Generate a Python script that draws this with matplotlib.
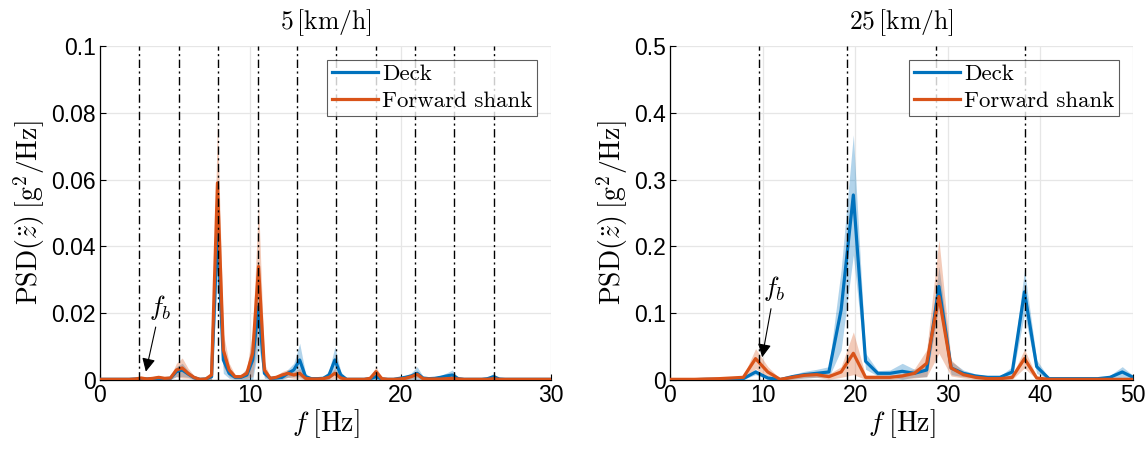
import numpy as np
import matplotlib
matplotlib.use("Agg")
import matplotlib.pyplot as plt

plt.rcParams['font.family'] = ['Liberation Sans', 'DejaVu Sans']
plt.rcParams['mathtext.fontset'] = 'cm'

# ---------------- data ----------------
# 5 km/h panel (frequency step ~0.39 Hz)
df_slow = 0.390625
deck_slow = [0.0002, 0.0002, 0.0002, 0.0002, 0.0002, 0.0002, 0.0003, 0.0004, 0.0003, 0.0004,
             0.0005, 0.0004, 0.0005, 0.0025, 0.003, 0.0018, 0.0007, 0.0002, 0.0003, 0.001,
             0.045, 0.006, 0.002, 0.0008, 0.0008, 0.0015, 0.006, 0.022, 0.002, 0.0005,
             0.0006, 0.0008, 0.002, 0.003, 0.006, 0.001, 0.0004, 0.0004, 0.0005, 0.0015,
             0.006, 0.0015, 0.0002, 0.0002, 0.0002, 0.0002, 0.0004, 0.001, 0.0003, 0.0002,
             0.0002, 0.0005, 0.0008, 0.0012, 0.002, 0.0006, 0.0004, 0.0005, 0.0008, 0.0012,
             0.0015, 0.0004, 0.0002, 0.0002, 0.0002, 0.0002, 0.0004, 0.001, 0.0003, 0.0002,
             0.0002, 0.0002, 0.0002, 0.0002, 0.0002, 0.0002, 0.0002, 0.0002]
deck_slow_sd = [0.0001, 0.0001, 0.0001, 0.0001, 0.0001, 0.0001, 0.0002, 0.0003, 0.0002, 0.0002,
                0.0003, 0.0003, 0.0003, 0.0015, 0.002, 0.001, 0.0005, 0.0002, 0.0002, 0.001,
                0.015, 0.004, 0.0015, 0.0006, 0.0006, 0.002, 0.006, 0.012, 0.0015, 0.0004,
                0.0004, 0.0006, 0.0012, 0.002, 0.005, 0.001, 0.0003, 0.0003, 0.0004, 0.0012,
                0.004, 0.001, 0.0002, 0.0002, 0.0002, 0.0002, 0.0003, 0.0008, 0.0002, 0.0002,
                0.0002, 0.0004, 0.0006, 0.0009, 0.002, 0.0005, 0.0003, 0.0004, 0.0006, 0.0009,
                0.0015, 0.0003, 0.0002, 0.0002, 0.0002, 0.0002, 0.0003, 0.001, 0.0002, 0.0002,
                0.0002, 0.0002, 0.0002, 0.0002, 0.0002, 0.0002, 0.0002, 0.0002]
shank_slow = [0.0002, 0.0002, 0.0002, 0.0002, 0.0002, 0.0002, 0.0003, 0.0006, 0.0003, 0.0005,
              0.0008, 0.0005, 0.0006, 0.003, 0.0036, 0.002, 0.0008, 0.0002, 0.0003, 0.0015,
              0.059, 0.009, 0.003, 0.001, 0.001, 0.002, 0.008, 0.034, 0.003, 0.0005,
              0.0008, 0.0015, 0.002, 0.0015, 0.002, 0.0005, 0.0003, 0.0003, 0.0004, 0.0008,
              0.002, 0.0006, 0.0002, 0.0002, 0.0002, 0.0002, 0.0005, 0.0025, 0.0004, 0.0002,
              0.0002, 0.0003, 0.0005, 0.001, 0.0017, 0.0004, 0.0003, 0.0003, 0.0003, 0.0004,
              0.0005, 0.0003, 0.0002, 0.0002, 0.0002, 0.0002, 0.0002, 0.0004, 0.0002, 0.0002,
              0.0002, 0.0002, 0.0002, 0.0002, 0.0002, 0.0002, 0.0002, 0.0002]
shank_slow_sd = [0.0001, 0.0001, 0.0001, 0.0001, 0.0001, 0.0001, 0.0002, 0.0003, 0.0002, 0.0003,
                 0.0004, 0.0003, 0.0004, 0.002, 0.003, 0.0015, 0.0006, 0.0002, 0.0002, 0.0015,
                 0.019, 0.005, 0.002, 0.0006, 0.0006, 0.0015, 0.007, 0.019, 0.002, 0.0004,
                 0.0005, 0.001, 0.0012, 0.001, 0.0015, 0.0004, 0.0002, 0.0002, 0.0003, 0.0006,
                 0.0015, 0.0004, 0.0002, 0.0002, 0.0002, 0.0002, 0.0004, 0.0015, 0.0003, 0.0002,
                 0.0002, 0.0002, 0.0004, 0.0007, 0.001, 0.0003, 0.0002, 0.0002, 0.0002, 0.0003,
                 0.0004, 0.0002, 0.0002, 0.0002, 0.0002, 0.0002, 0.0002, 0.0003, 0.0002, 0.0002,
                 0.0002, 0.0002, 0.0002, 0.0002, 0.0002, 0.0002, 0.0002, 0.0002]
fb_slow = 2.62
n_harm_slow = 10

# 25 km/h panel (frequency step ~1.32 Hz)
df_fast = 1.32
deck_fast = [0.0, 0.0, 0.0005, 0.001, 0.001, 0.0015, 0.002, 0.012, 0.003, 0.0005,
             0.005, 0.008, 0.01, 0.012, 0.105, 0.277, 0.028, 0.01, 0.01, 0.013,
             0.01, 0.015, 0.14, 0.018, 0.01, 0.006, 0.004, 0.004, 0.012, 0.132,
             0.02, 0.002, 0.002, 0.002, 0.002, 0.002, 0.004, 0.012, 0.003]
deck_fast_sd = [0.0, 0.0, 0.0003, 0.0005, 0.0005, 0.001, 0.001, 0.004, 0.002, 0.0005,
                0.003, 0.005, 0.006, 0.008, 0.06, 0.09, 0.012, 0.004, 0.005, 0.012,
                0.006, 0.01, 0.03, 0.01, 0.005, 0.003, 0.002, 0.002, 0.008, 0.033,
                0.01, 0.001, 0.001, 0.001, 0.001, 0.001, 0.003, 0.008, 0.002]
shank_fast = [0.001, 0.001, 0.001, 0.0015, 0.002, 0.003, 0.004, 0.032, 0.012, 0.001,
              0.004, 0.007, 0.008, 0.005, 0.012, 0.04, 0.004, 0.004, 0.004, 0.006,
              0.01, 0.025, 0.125, 0.018, 0.008, 0.004, 0.002, 0.002, 0.004, 0.032,
              0.003, 0.001, 0.001, 0.001, 0.001, 0.001, 0.001, 0.001, 0.001]
shank_fast_sd = [0.0005, 0.0005, 0.0005, 0.001, 0.001, 0.002, 0.002, 0.015, 0.008, 0.001,
                 0.003, 0.004, 0.004, 0.004, 0.008, 0.032, 0.003, 0.003, 0.003, 0.004,
                 0.007, 0.02, 0.085, 0.012, 0.005, 0.003, 0.002, 0.002, 0.003, 0.014,
                 0.002, 0.001, 0.001, 0.001, 0.001, 0.001, 0.001, 0.001, 0.001]
fb_fast = 9.58
n_harm_fast = 4

titles = [r'$5\,[\mathrm{km/h}]$', r'$25\,[\mathrm{km/h}]$']
xlims = [30, 50]
ylims = [0.1, 0.5]
xtick_sets = [[0, 10, 20, 30], [0, 10, 20, 30, 40, 50]]
ytick_sets = [[0, 0.02, 0.04, 0.06, 0.08, 0.1], [0, 0.1, 0.2, 0.3, 0.4, 0.5]]
ytick_labels = [['0', '0.02', '0.04', '0.06', '0.08', '0.1'],
                ['0', '0.1', '0.2', '0.3', '0.4', '0.5']]
fb_text = [(4.0, 0.0175), (11.3, 0.115)]
fb_tip = [(3.05, 0.0025), (9.95, 0.034)]

# ---------------- plot ----------------
c_deck = '#0072BD'
c_shank = '#D95319'

fig = plt.figure(figsize=(11.48, 4.51), dpi=100)
ax1 = fig.add_axes([100 / 1148, 71 / 451, 451 / 1148, 334 / 451])
ax2 = fig.add_axes([670 / 1148, 71 / 451, 463 / 1148, 334 / 451])

panels = [
    (ax1, df_slow, deck_slow, deck_slow_sd, shank_slow, shank_slow_sd, fb_slow, n_harm_slow),
    (ax2, df_fast, deck_fast, deck_fast_sd, shank_fast, shank_fast_sd, fb_fast, n_harm_fast),
]

for i, (ax, df, d, dsd, s, ssd, fb, nh) in enumerate(panels):
    d = np.array(d); dsd = np.array(dsd); s = np.array(s); ssd = np.array(ssd)
    f = np.arange(len(d)) * df
    ax.fill_between(f, np.clip(d - dsd, 0, None), d + dsd, color=c_deck, alpha=0.3, lw=0, zorder=2)
    ax.fill_between(f, np.clip(s - ssd, 0, None), s + ssd, color=c_shank, alpha=0.3, lw=0, zorder=2)
    ax.plot(f, d, color=c_deck, lw=2.3, label='Deck', zorder=3)
    ax.plot(f, s, color=c_shank, lw=2.3, label='Forward shank', zorder=3)
    for h in range(1, nh + 1):
        ax.axvline(h * fb, color='black', ls=(0, (6, 2.5, 1.5, 2.5)), lw=1.0, zorder=4)

    ax.set_xlim(0, xlims[i])
    ax.set_ylim(0, ylims[i])
    ax.set_xticks(xtick_sets[i])
    ax.set_yticks(ytick_sets[i])
    ax.set_yticklabels(ytick_labels[i])
    ax.tick_params(direction='in', labelsize=16.5, length=4, width=0.8, pad=3)
    ax.grid(True, color='#e6e6e6', lw=0.9)
    ax.set_axisbelow(True)
    for side in ['top', 'right']:
        ax.spines[side].set_visible(False)
    for side in ['left', 'bottom']:
        ax.spines[side].set_linewidth(0.9)

    ax.set_title(titles[i], fontsize=18.5, pad=12)
    ax.set_xlabel(r'$f\;[\mathrm{Hz}]$', fontsize=20, labelpad=0)
    ax.set_ylabel(r'$\mathrm{PSD}(\ddot{z})\;[\mathrm{g}^2/\mathrm{Hz}]$', fontsize=20, labelpad=3)

    ax.annotate(r'$f_b$', xy=fb_tip[i], xytext=fb_text[i], fontsize=19,
                ha='center', va='bottom',
                arrowprops=dict(arrowstyle='-|>', color='black', lw=0.8,
                                mutation_scale=20, shrinkA=2, shrinkB=0),
                zorder=6)

    leg = ax.legend(loc='upper right', frameon=True, fancybox=False,
                    borderpad=0.2, handlelength=2.0, handletextpad=0.2,
                    labelspacing=0.3, borderaxespad=0.6,
                    prop={'family': 'cmr10', 'size': 16.5})
    leg.get_frame().set_edgecolor('#333333')
    leg.get_frame().set_linewidth(0.8)
    leg.set_zorder(7)

fig.savefig('out.png', dpi=100)
